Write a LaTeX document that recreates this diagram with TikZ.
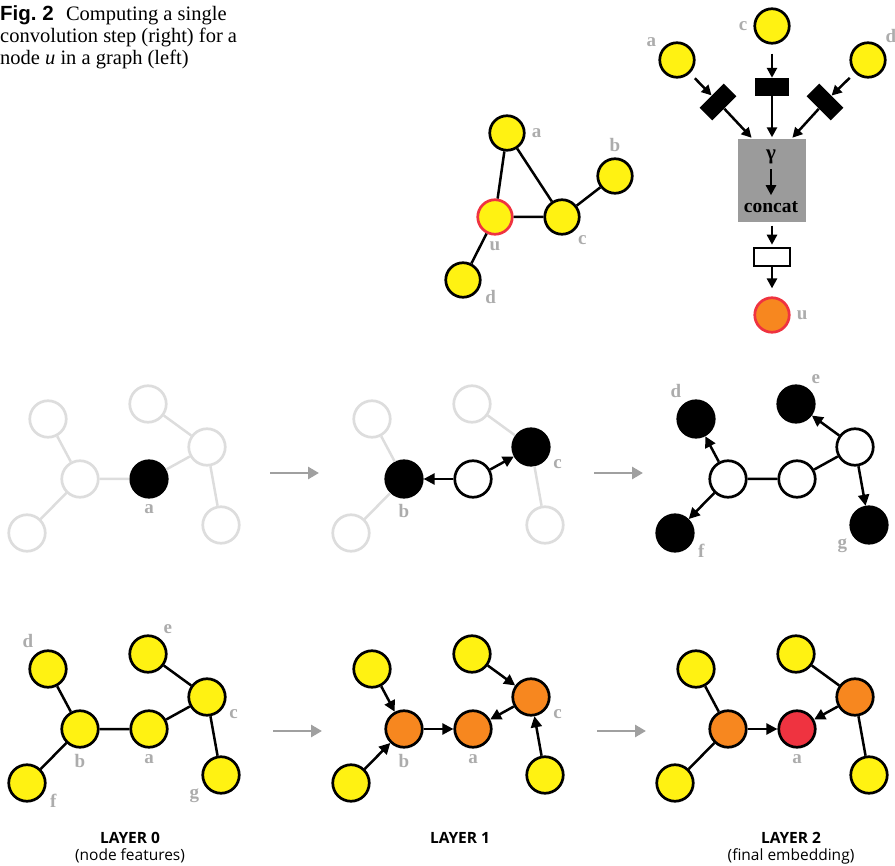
\documentclass[tikz,border=0pt]{standalone}
\usepackage{fontspec}
\setmainfont{Liberation Serif}
\newfontfamily\figsans{Liberation Sans}
\newfontfamily\layersans{Open Sans}
\usetikzlibrary{arrows.meta,positioning,calc}

\definecolor{nodeyellow}{RGB}{255,242,18}
\definecolor{nodeorange}{RGB}{247,135,31}
\definecolor{nodered}{RGB}{239,51,64}
\definecolor{lblgray}{RGB}{172,172,172}
\definecolor{ghostgray}{RGB}{221,221,221}
\definecolor{stepgray}{RGB}{160,160,160}
\definecolor{boxgray}{RGB}{155,155,155}

\tikzset{
  vtx/.style={circle, draw=black, line width=2.7pt, minimum size=36.5pt, inner sep=0pt},
  yel/.style={vtx, fill=nodeyellow},
  org/.style={vtx, fill=nodeorange},
  hot/.style={vtx, fill=nodered},
  blk/.style={vtx, fill=black},
  wht/.style={vtx, fill=white},
  ghost/.style={vtx, draw=ghostgray, fill=white},
  topyel/.style={yel, minimum size=34.5pt},
  lbl/.style={text=lblgray, font=\fontsize{19}{21}\selectfont\bfseries, inner sep=0pt},
  every label/.style={lbl},
  edge/.style={draw=black, line width=2.5pt},
  ghostedge/.style={draw=ghostgray, line width=2.5pt},
  msg/.style={edge, -{Triangle[length=11pt,width=11pt]}},
  conv/.style={edge, -{Triangle[length=10pt,width=10pt]}},
  stepar/.style={draw=stepgray, line width=2.8pt, -{Triangle[length=11pt,width=12pt]}},
  wgt/.style={rectangle, fill=black, minimum width=34pt, minimum height=18pt, inner sep=0pt},
  dense/.style={rectangle, draw=black, fill=white, line width=2.5pt, minimum width=36pt, minimum height=18pt, inner sep=0pt},
  aggbox/.style={rectangle, fill=boxgray, minimum width=68pt, minimum height=83pt, inner sep=0pt},
  layer/.style={font=\layersans\fontsize{15.5}{17}\selectfont\bfseries, inner sep=0pt},
  layersub/.style={font=\layersans\fontsize{15.5}{17}\selectfont, inner sep=0pt}
}

\begin{document}
\begin{tikzpicture}[x=1pt, y=-1pt, label distance=6pt]
\useasboundingbox (0,0) rectangle (895,866);

% caption
\node[anchor=base west, inner sep=0pt, font=\fontsize{20.5}{22}\selectfont] (cap1) at (0,20.7) {{\figsans\bfseries Fig.~2}\hspace{0.6em}Computing a single};
\node[anchor=base west, inner sep=0pt, font=\fontsize{20.5}{22}\selectfont] (cap2) at (0,42.5) {convolution step (right) for a};
\node[anchor=base west, inner sep=0pt, font=\fontsize{20.5}{22}\selectfont] (cap3) at (0,64.3) {node \textit{u} in a graph (left)};

% graph around u
\node[topyel, label=0:a] (ta) at (507,133) {};
\node[topyel, label=90:b] (tb) at (615,176) {};
\node[topyel, draw=nodered, label=-90:u] (tu) at (495,217) {};
\node[topyel, label=-50:c] (tc) at (562,217) {};
\node[topyel, label=-25:d] (td) at (463,280) {};
\draw[edge] (ta) -- (tu) (ta) -- (tc) (tu) -- (tc) (tc) -- (tb) (tu) -- (td);

% convolution step
\node[topyel, label=147:a] (ra) at (677,60) {};
\node[topyel, label=180:c] (rc) at (772,26) {};
\node[topyel, label=45:d] (rd) at (868,60) {};
\node[wgt, rotate=45] (wa) at (718,102) {};
\node[wgt] (wc) at (772,87) {};
\node[wgt, rotate=-45] (wd) at (825,102) {};
\node[aggbox] (agg) at (772,181) {};
\node[font=\fontsize{21}{22}\selectfont\bfseries, inner sep=0pt] (gam) at (771,157) {γ};
\node[font=\fontsize{19.5}{21}\selectfont\bfseries, inner sep=0pt] (cc) at (771,207) {concat};
\node[dense] (upd) at (772,257) {};
\node[topyel, fill=nodeorange, draw=nodered, label=0:u] (ru) at (772,315) {};
\coordinate (aggL) at ([xshift=-19pt]agg.north);
\coordinate (aggR) at ([xshift=19pt]agg.north);

\draw[conv, shorten <=7pt] (ra) -- (wa);
\draw[conv, shorten >=2pt] (wa) -- (aggL);
\draw[conv, shorten <=9pt] (rc) -- (wc);
\draw[conv, shorten >=2pt] (wc) -- (agg);
\draw[conv, shorten <=7pt] (rd) -- (wd);
\draw[conv, shorten >=2pt] (wd) -- (aggR);
\draw[conv, shorten <=5pt, shorten >=6pt] (gam) -- (cc);
\draw[conv, shorten <=3pt, shorten >=2pt] (agg) -- (upd);
\draw[conv, shorten >=8pt] (upd) -- (ru);

% message passing, step 1
\begin{scope}[shift={(149,479)}, name prefix=m1-]
  \node[ghost] (d) at (-101,-60) {};
  \node[ghost] (b) at (-69,0) {};
  \node[ghost] (f) at (-122,54) {};
  \node[blk, label=below:a] (a) at (0,0) {};
  \node[ghost] (e) at (-1,-75) {};
  \node[ghost] (c) at (58,-32) {};
  \node[ghost] (g) at (72,46) {};
  \draw[ghostedge] (d) -- (b) (f) -- (b) (b) -- (a) (a) -- (c) (e) -- (c) (c) -- (g);
\end{scope}

% message passing, step 2
\begin{scope}[shift={(473,479)}, name prefix=m2-]
  \node[ghost] (d) at (-101,-60) {};
  \node[blk, label=below:b] (b) at (-69,0) {};
  \node[ghost] (f) at (-122,54) {};
  \node[wht] (a) at (0,0) {};
  \node[ghost] (e) at (-1,-75) {};
  \node[blk, label=-30:c] (c) at (58,-32) {};
  \node[ghost] (g) at (72,46) {};
  \draw[ghostedge] (d) -- (b) (f) -- (b) (e) -- (c) (c) -- (g);
  \draw[msg] (a) -- (b);
  \draw[msg] (a) -- (c);
\end{scope}

% message passing, step 3
\begin{scope}[shift={(797,479)}, name prefix=m3-]
  \node[blk, label=125:d] (d) at (-101,-60) {};
  \node[wht] (b) at (-69,0) {};
  \node[blk, label=-26:f] (f) at (-122,54) {};
  \node[wht] (a) at (0,0) {};
  \node[blk, label=53:e] (e) at (-1,-75) {};
  \node[wht] (c) at (58,-32) {};
  \node[blk, label=212:g] (g) at (72,46) {};
  \draw[edge] (b) -- (a) (a) -- (c);
  \draw[msg] (b) -- (d);
  \draw[msg] (b) -- (f);
  \draw[msg] (c) -- (e);
  \draw[msg] (c) -- (g);
\end{scope}

% layer 0
\begin{scope}[shift={(149,729)}, name prefix=l0-]
  \node[yel, label=125:d] (d) at (-101,-60) {};
  \node[yel, label=below:b] (b) at (-69,0) {};
  \node[yel, label=-26:f] (f) at (-122,54) {};
  \node[yel, label=below:a] (a) at (0,0) {};
  \node[yel, label=53:e] (e) at (-1,-75) {};
  \node[yel, label=-30:c] (c) at (58,-32) {};
  \node[yel, label=212:g] (g) at (72,46) {};
  \draw[edge] (d) -- (b) (f) -- (b) (b) -- (a) (a) -- (c) (e) -- (c) (c) -- (g);
\end{scope}

% layer 1
\begin{scope}[shift={(473,729)}, name prefix=l1-]
  \node[yel] (d) at (-101,-60) {};
  \node[org, label=below:b] (b) at (-69,0) {};
  \node[yel] (f) at (-122,54) {};
  \node[org, label=below:a] (a) at (0,0) {};
  \node[yel] (e) at (-1,-75) {};
  \node[org, label=-30:c] (c) at (58,-32) {};
  \node[yel] (g) at (72,46) {};
  \draw[msg] (d) -- (b);
  \draw[msg] (f) -- (b);
  \draw[msg] (b) -- (a);
  \draw[msg] (e) -- (c);
  \draw[msg] (g) -- (c);
  \draw[msg] (c) -- (a);
\end{scope}

% layer 2
\begin{scope}[shift={(797,729)}, name prefix=l2-]
  \node[yel] (d) at (-101,-60) {};
  \node[org] (b) at (-69,0) {};
  \node[yel] (f) at (-122,54) {};
  \node[hot, label=below:a] (a) at (0,0) {};
  \node[yel] (e) at (-1,-75) {};
  \node[org] (c) at (58,-32) {};
  \node[yel] (g) at (72,46) {};
  \draw[edge] (d) -- (b) (f) -- (b) (e) -- (c) (g) -- (c);
  \draw[msg] (b) -- (a);
  \draw[msg] (c) -- (a);
\end{scope}

% steps between the graphs
\coordinate (s1a) at (270,473);
\coordinate (s1b) at (319,473);
\coordinate (s2a) at (594,473);
\coordinate (s2b) at (643,473);
\coordinate (s3a) at (273,731);
\coordinate (s3b) at (322,731);
\coordinate (s4a) at (597,731);
\coordinate (s4b) at (646,731);
\draw[stepar] (s1a) -- (s1b);
\draw[stepar] (s2a) -- (s2b);
\draw[stepar] (s3a) -- (s3b);
\draw[stepar] (s4a) -- (s4b);

% layer captions
\node[layer, anchor=base] (t0) at (130,843) {LAYER 0};
\node[layersub, anchor=base] (t0s) at (130,860.6) {(node features)};
\node[layer, anchor=base] (t1) at (460,843) {LAYER 1};
\node[layer, anchor=base] (t2) at (791,843) {LAYER 2};
\node[layersub, anchor=base] (t2s) at (791,860.6) {(final embedding)};
\end{tikzpicture}
\end{document}
